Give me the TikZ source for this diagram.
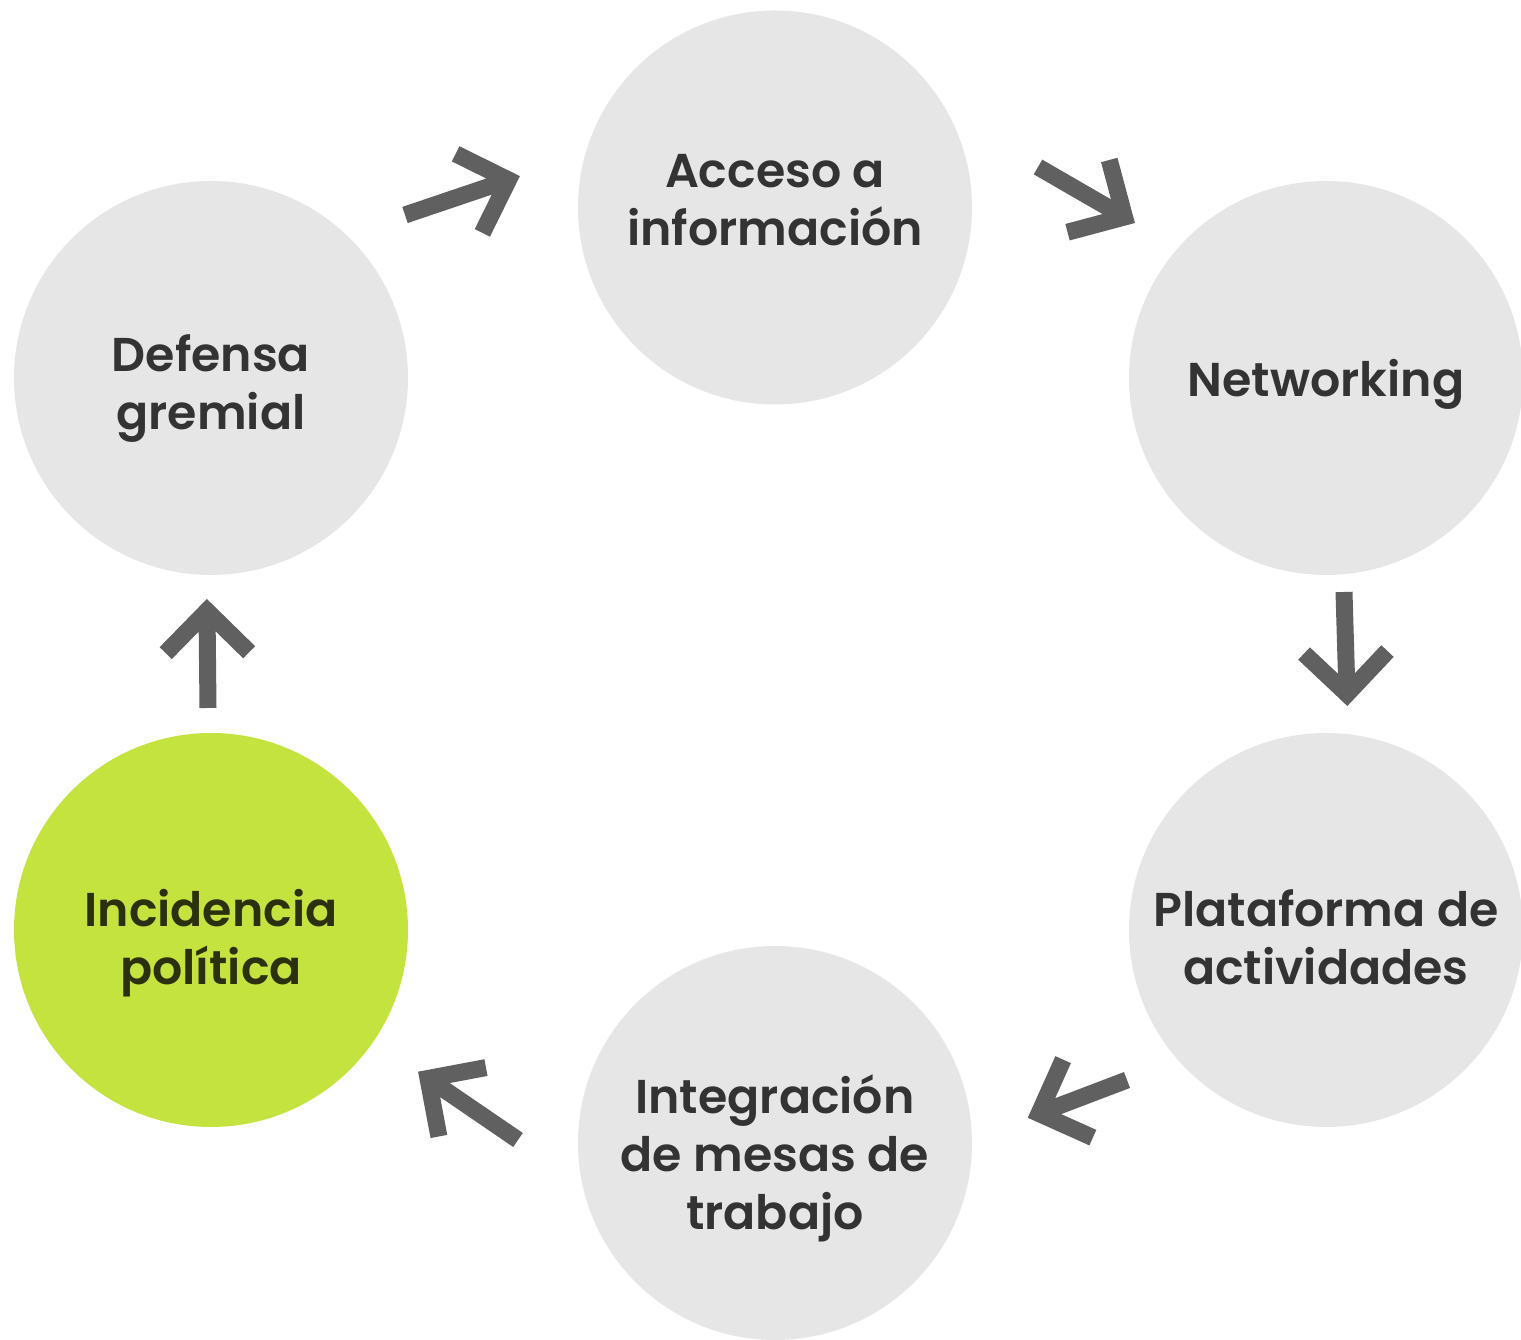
\documentclass[tikz,border=0pt]{standalone}
\usepackage{fontspec}
\setmainfont{Poppins SemiBold}
\usetikzlibrary{calc,positioning}
\definecolor{bubblegray}{HTML}{E6E6E6}
\definecolor{limegreen}{HTML}{C5E33F}
\definecolor{arrowgray}{HTML}{606060}
\definecolor{labelgray}{HTML}{333333}
\definecolor{labeldark}{HTML}{2B300E}

\begin{document}
\begin{tikzpicture}[every node/.style={font=\fontsize{27}{33}\selectfont},
    bubble/.style={circle, fill=bubblegray, minimum size=7.88cm, inner sep=0pt},
    hlbubble/.style={bubble, fill=limegreen},
    txt/.style={align=center, text=labelgray, inner sep=0pt},
    hltxt/.style={txt, text=labeldark},
    arr/.style={draw=arrowgray, line width=0.34cm, line cap=butt, line join=miter}]
                \useasboundingbox (0,0) rectangle (30.42,26.8);
                % circles
                \node[bubble] (acceso) at (15.5,22.65) {};
                \node[bubble] (networking) at (26.52,19.24) {};
                \node[bubble] (plataforma) at (26.52,8.2) {};
                \node[bubble] (integracion) at (15.5,3.94) {};
                \node[hlbubble] (incidencia) at (4.22,8.2) {};
                \node[bubble] (defensa) at (4.22,19.24) {};
                % labels
                \node[txt] (accesotxt) at ([yshift=0.14cm]acceso) {Acceso a\\información};
                \node[txt] (networkingtxt) at ([yshift=-0.12cm]networking) {Networking};
                \node[txt] (plataformatxt) at ([yshift=-0.14cm]plataforma) {Plataforma de\\actividades};
                \node[txt] (integraciontxt) at ([yshift=-0.3cm]integracion) {Integración\\de mesas de\\trabajo};
                \node[hltxt] (incidenciatxt) at ([yshift=-0.26cm]incidencia) {Incidencia\\política};
                \node[txt] (defensatxt) at ([yshift=-0.2cm]defensa) {Defensa\\gremial};
                % arrow ends
                \coordinate (t1) at (8.10,22.50);
                \coordinate (h1) at (10.17,23.20);
                \coordinate (t2) at (20.76,23.46);
                \coordinate (h2) at (22.49,22.46);
                \coordinate (t3) at (26.88,14.96);
                \coordinate (h3) at (26.94,12.92);
                \coordinate (t4) at (22.54,5.20);
                \coordinate (h4) at (20.78,4.53);
                \coordinate (t5) at (10.36,4.00);
                \coordinate (h5) at (8.56,5.23);
                \coordinate (t6) at (4.16,12.64);
                \coordinate (h6) at (4.14,14.58);
                % arrows
                \draw[arr] (t1) -- (h1) ($(h1)!1.18cm!45:(t1)$) -- (h1) -- ($(h1)!1.18cm!-45:(t1)$);
                \draw[arr] (t2) -- (h2) ($(h2)!1.18cm!45:(t2)$) -- (h2) -- ($(h2)!1.18cm!-45:(t2)$);
                \draw[arr] (t3) -- (h3) ($(h3)!1.18cm!45:(t3)$) -- (h3) -- ($(h3)!1.18cm!-45:(t3)$);
                \draw[arr] (t4) -- (h4) ($(h4)!1.18cm!45:(t4)$) -- (h4) -- ($(h4)!1.18cm!-45:(t4)$);
                \draw[arr] (t5) -- (h5) ($(h5)!1.18cm!45:(t5)$) -- (h5) -- ($(h5)!1.18cm!-45:(t5)$);
                \draw[arr] (t6) -- (h6) ($(h6)!1.18cm!45:(t6)$) -- (h6) -- ($(h6)!1.18cm!-45:(t6)$);
            \end{tikzpicture}
\end{document}
